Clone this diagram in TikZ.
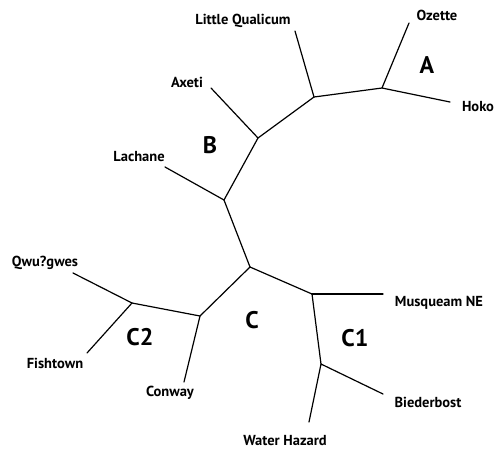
\documentclass[tikz,border=0pt]{standalone}
\usepackage{fontspec}
\setmainfont{PT Sans}
\tikzset{
  taxon/.style={font=\fontsize{14.5}{16}\selectfont\bfseries, inner sep=0pt},
  clade/.style={font=\fontsize{24}{27}\selectfont\bfseries, inner sep=0pt},
  branch/.style={line width=1.2pt}
}
\begin{document}
\begin{tikzpicture}[x=1pt, y=-1pt, line cap=round, line join=round]
  \useasboundingbox (0,0) rectangle (498,451);
  % Internal nodes.
  \coordinate (root) at (250,267);
  \coordinate (nB) at (224,200);
  \coordinate (nAx) at (258,138);
  \coordinate (nLQ) at (314,97);
  \coordinate (nA) at (382,88);
  \coordinate (nC2) at (200,316);
  \coordinate (nQF) at (132,303);
  \coordinate (nC1) at (312,294);
  \coordinate (nBW) at (321,364);
  % Leaf ends.
  \coordinate (lLach) at (165,167);
  \coordinate (lAxet) at (211,88);
  \coordinate (lLitt) at (295,31);
  \coordinate (lOzet) at (409,23);
  \coordinate (lHoko) at (450,102);
  \coordinate (lConw) at (184,382);
  \coordinate (lQwug) at (73,273);
  \coordinate (lFish) at (87,353);
  \coordinate (lMusq) at (383,294);
  \coordinate (lBied) at (383,394);
  \coordinate (lWate) at (309,422);
  % Branches.
  \draw[branch] (root) -- (nB) -- (nAx) -- (nLQ) -- (nA);
  \draw[branch] (nB) -- (lLach);
  \draw[branch] (nAx) -- (lAxet);
  \draw[branch] (nLQ) -- (lLitt);
  \draw[branch] (lOzet) -- (nA) -- (lHoko);
  \draw[branch] (root) -- (nC2) -- (nQF);
  \draw[branch] (nC2) -- (lConw);
  \draw[branch] (lQwug) -- (nQF) -- (lFish);
  \draw[branch] (root) -- (nC1) -- (nBW);
  \draw[branch] (nC1) -- (lMusq);
  \draw[branch] (lBied) -- (nBW) -- (lWate);
  % Taxa.
  \node[taxon] (tLitt) at (243,21) {Little Qualicum};
  \node[taxon] (tOzet) at (437,15) {Ozette};
  \node[taxon] (tHoko) at (478,107) {Hoko};
  \node[taxon] (tAxet) at (187,82) {Axeti};
  \node[taxon] (tLach) at (139,157) {Lachane};
  \node[taxon] (tQwug) at (45,263) {Qwu?gwes};
  \node[taxon] (tFish) at (55,363) {Fishtown};
  \node[taxon] (tConw) at (170,393) {Conway};
  \node[taxon] (tMusq) at (439,303) {Musqueam NE};
  \node[taxon] (tBied) at (428,402) {Biederbost};
  \node[taxon] (tWate) at (285,441) {Water Hazard};
  % Clade letters.
  \node[clade] (cA) at (427,65) {A};
  \node[clade] (cB) at (210,145) {B};
  \node[clade] (cC) at (252,320) {C};
  \node[clade] (cC1) at (355,338) {C1};
  \node[clade] (cC2) at (140,337) {C2};
\end{tikzpicture}
\end{document}
